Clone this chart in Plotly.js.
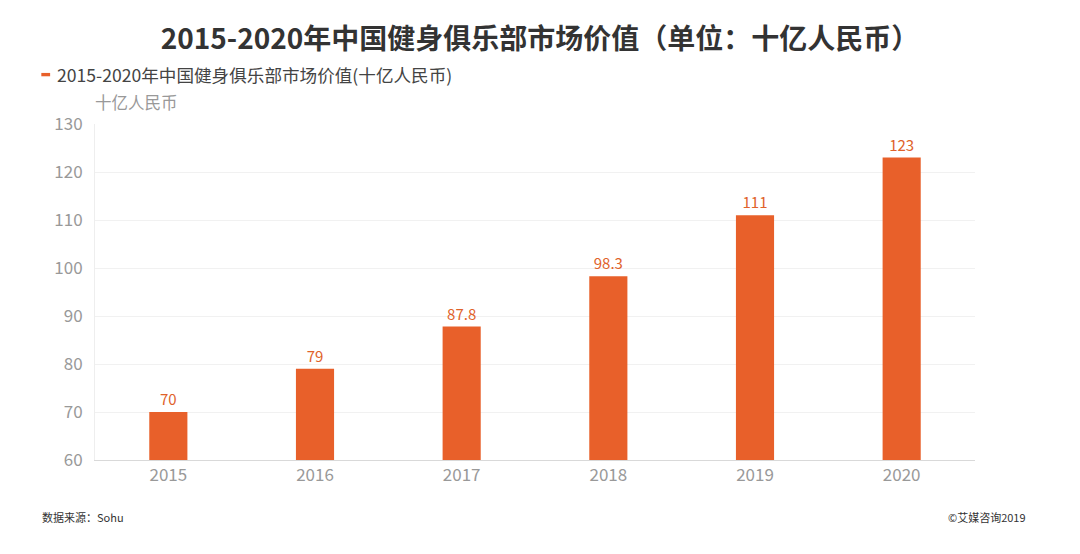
<!DOCTYPE html>
<html>
<head>
<meta charset="utf-8">
<script src="https://cdn.plot.ly/plotly-3.0.1.min.js"></script>
<style>html,body{margin:0;padding:0;background:#fff;}#chart{width:1080px;height:554px;}</style>
</head>
<body>
<div id="chart"></div>
<script>
const years = ['2015', '2016', '2017', '2018', '2019', '2020'];
const values = [70, 79, 87.8, 98.3, 111, 123];
const valueLabels = ['70', '79', '87.8', '98.3', '111', '123'];
const yTicks = [60, 70, 80, 90, 100, 110, 120, 130];
const seriesName = '2015-2020年中国健身俱乐部市场价值(十亿人民币)';
const chartTitle = '2015-2020年中国健身俱乐部市场价值（单位：十亿人民币）';
const yUnit = '十亿人民币';
const sourceText = '数据来源：Sohu';
const copyrightText = '©艾媒咨询2019';

const font = '"Noto Sans CJK SC", "Noto Sans", sans-serif';
const orange = '#E8602A';

const trace = {
  type: 'bar',
  x: years,
  y: values,
  name: seriesName,
  text: valueLabels,
  textposition: 'outside',
  cliponaxis: false,
  textfont: {family: font, size: 15, color: '#E0622A'},
  marker: {color: orange},
  width: 0.26,
  showlegend: false
};

const layout = {
  width: 1080, height: 554,
  margin: {l: 95, r: 105, t: 124, b: 94},
  paper_bgcolor: '#fff', plot_bgcolor: '#fff',
  font: {family: font},
  title: {text: '<b>' + chartTitle + '</b>', font: {family: font, size: 28, color: '#333'}, x: 0.5, xanchor: 'center', y: 0.93, yanchor: 'middle'},
  xaxis: {
    type: 'category',
    showline: true, linecolor: '#d9d9d9', linewidth: 1,
    ticks: '', showgrid: false,
    tickfont: {family: font, size: 17, color: '#999'}
  },
  yaxis: {
    range: [60, 130],
    tickvals: yTicks,
    showline: true, linecolor: '#eeeeee', linewidth: 1,
    gridcolor: '#f1f1f1', zeroline: false,
    ticks: '', ticklabelstandoff: 8,
    tickfont: {family: font, size: 17, color: '#999'}
  },
  shapes: [
    {type: 'rect', xref: 'paper', yref: 'paper', x0: -0.061, x1: -0.051, y0: 1.142, y1: 1.152, fillcolor: orange, line: {width: 0}}
  ],
  annotations: [
    {text: seriesName, xref: 'paper', yref: 'paper', x: -0.045, y: 1.147, xanchor: 'left', yanchor: 'middle', showarrow: false, font: {family: font, size: 17.6, color: '#444'}},
    {text: yUnit, xref: 'paper', yref: 'paper', x: -0.002, y: 1.066, xanchor: 'left', yanchor: 'middle', showarrow: false, font: {family: font, size: 16.5, color: '#999'}},
    {text: sourceText, xref: 'paper', yref: 'paper', x: -0.063, y: -0.17, xanchor: 'left', yanchor: 'middle', showarrow: false, font: {family: font, size: 11, color: '#333'}},
    {text: copyrightText, xref: 'paper', yref: 'paper', x: 1.06, y: -0.17, xanchor: 'right', yanchor: 'middle', showarrow: false, font: {family: font, size: 11, color: '#333'}}
  ]
};

Plotly.newPlot('chart', [trace], layout, {displayModeBar: false, staticPlot: true});
</script>
</body>
</html>
